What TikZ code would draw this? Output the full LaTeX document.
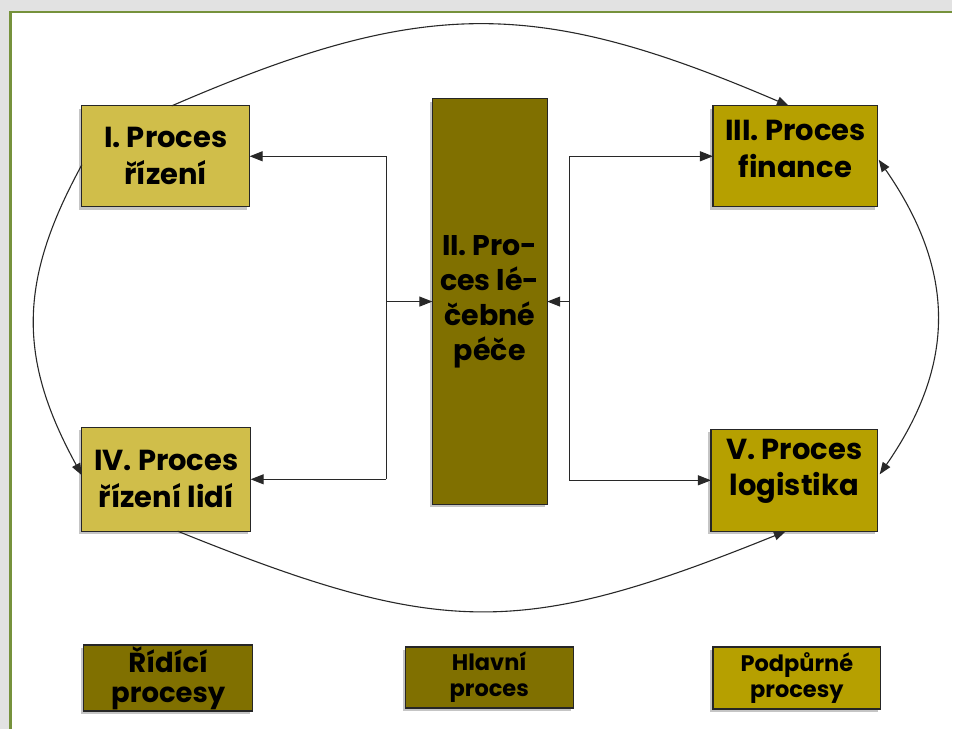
\documentclass[tikz,border=0pt]{standalone}
\usepackage{fontspec}
\setmainfont{Poppins}
\usetikzlibrary{calc,shadows,arrows.meta}
\definecolor{gLight}{RGB}{208,190,74}
\definecolor{gMid}{RGB}{182,160,0}
\definecolor{gDark}{RGB}{128,112,0}
\definecolor{frameGreen}{RGB}{118,146,60}
\definecolor{outerGray}{RGB}{226,226,226}
\definecolor{lineGray}{RGB}{40,40,40}
\begin{document}
\begin{tikzpicture}[x=1pt,y=-1pt,
  box/.style={draw=black!85, line width=1.2pt, align=center, inner sep=0pt, outer sep=0pt,
    font=\bfseries\fontsize{29}{37}\selectfont,
    drop shadow={shadow xshift=-2.5pt,shadow yshift=-3pt,opacity=0.45}},
  boxtext/.style={align=center, inner sep=0pt, font=\bfseries\fontsize{29}{37}\selectfont},
  legbig/.style={box, font=\bfseries\fontsize{27.5}{30}\selectfont},
  legsmall/.style={box, font=\bfseries\fontsize{22.5}{26}\selectfont},
  arr/.style={-{Triangle[length=13pt,width=10pt]}, line width=1pt, draw=lineGray},
  plain/.style={line width=1pt, draw=lineGray},
  orbit/.style={line width=1.1pt, draw=lineGray},
  orbitarr/.style={orbit, -{Triangle[length=12pt,width=9pt]}},
  orbitboth/.style={orbit, {Triangle[length=12pt,width=9pt]}-{Triangle[length=12pt,width=9pt]}}
]
% background and frame
\fill[outerGray] (0,0) rectangle (953,730);
\fill[white] (11,12) rectangle (953,730);
\draw[frameGreen, line width=2.8pt] (953,12) -- (10.6,12) -- (10.6,730);
\useasboundingbox (0,0) rectangle (953,730);

% process boxes
\node[box, fill=gLight, minimum width=168pt, minimum height=101pt] (I) at (166,156.5) {I. Proces\\řízení};
\node[box, fill=gDark, minimum width=115pt, minimum height=406pt, font=\bfseries\fontsize{28.5}{35}\selectfont] (II) at (490.5,302) {II. Pro-\\ces lé-\\čebné\\péče};
\node[box, fill=gMid, minimum width=165pt, minimum height=101pt,
  label={[boxtext, yshift=7pt]center:III. Proces\\finance}] (III) at (796.5,156.5) {};
\node[box, fill=gLight, minimum width=169pt, minimum height=104pt] (IV) at (166.5,480) {IV. Proces\\řízení lidí};
\node[box, fill=gMid, minimum width=167pt, minimum height=102pt,
  label={[boxtext, yshift=9pt]center:V. Proces\\logistika}] (V) at (795.5,481) {};

% legend
\node[legbig, fill=gDark, minimum width=169pt, minimum height=66pt] (L1) at (168.5,679) {Řídící\\procesy};
\node[legsmall, fill=gDark, minimum width=168pt, minimum height=61pt] (L2) at (490,678.5) {Hlavní\\proces};
\node[legsmall, fill=gMid, minimum width=168pt, minimum height=62pt] (L3) at (798,679) {Podpůrné\\procesy};

% brackets
\coordinate (lx) at (387,0);
\coordinate (rx) at (570,0);
\draw[plain] (I.east -| lx) -- (IV.east -| lx);
\draw[arr] (I.east -| lx) -- (I.east);
\draw[arr] (IV.east -| lx) -- (IV.east);
\draw[arr] (II.west -| lx) -- (II.west);
\draw[plain] (III.west -| rx) -- (V.west -| rx);
\draw[arr] (III.west -| rx) -- (III.west);
\draw[arr] (V.west -| rx) -- (V.west);
\draw[arr] (II.east -| rx) -- (II.east);

% orbit around the boxes
\coordinate (a1) at ($(I.north west)+(90,0)$);
\coordinate (a2) at ($(III.north west)+(76,0)$);
\coordinate (b1) at ($(III.north east)+(1,54)$);
\coordinate (b2) at ($(V.north east)+(2,45)$);
\coordinate (c1) at ($(IV.south west)+(96,0)$);
\coordinate (c2) at ($(V.south west)+(75,0)$);
\coordinate (d1) at ($(I.north west)+(0,59)$);
\coordinate (d2) at ($(IV.north west)+(0,48)$);
\draw[orbitarr] (a1) .. controls +(252,-109) and +(-254,-109) .. (a2);
\draw[orbitboth] (b1) .. controls +(77,111) and +(77,-111) .. (b2);
\draw[orbitarr] (c1) .. controls +(265,107) and +(-265,107) .. (c2);
\draw[orbitarr] (d1) .. controls +(-64,117) and +(-64,-117) .. (d2);
\end{tikzpicture}
\end{document}
